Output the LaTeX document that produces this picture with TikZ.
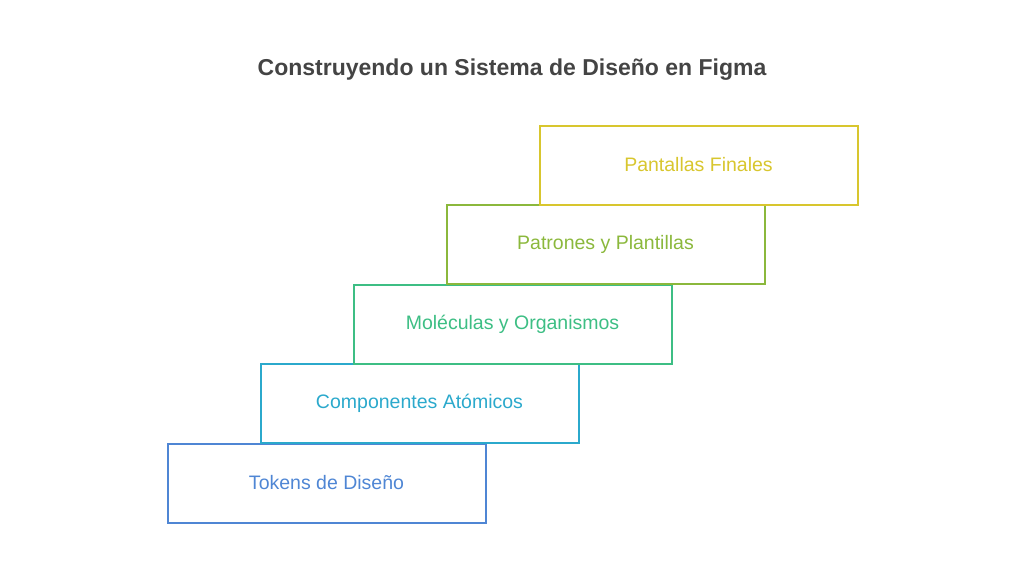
\documentclass[tikz,border=0pt]{standalone}
\usepackage{fontspec}
\setmainfont{Liberation Sans}
\usetikzlibrary{positioning}
\definecolor{cTokens}{HTML}{4F86D4}
\definecolor{cAtom}{HTML}{2BA9CC}
\definecolor{cMol}{HTML}{3DBE84}
\definecolor{cPat}{HTML}{8BB83C}
\definecolor{cPant}{HTML}{D8C62E}
\definecolor{cTitle}{HTML}{444444}
\begin{document}
\begin{tikzpicture}[x=1pt,y=-1pt,node distance=79.5pt and 93pt,on grid,
  step/.style={draw=#1,text=#1,line width=2pt,minimum width=318pt,
    minimum height=79pt,font=\fontsize{19.5}{23}\selectfont}]
    \useasboundingbox (0,0) rectangle (1024,576);
    \node[font=\fontsize{23}{27}\selectfont\bfseries,text=cTitle] (title) at (512,70) {Construyendo un Sistema de Diseño en Figma};
    \node[step=cTokens] (s_0) at (326.5,483) {Tokens de Diseño};
    \node[step=cAtom] (s_1) [above right=of s_0] {Componentes Atómicos};
    \node[step=cMol] (s_2) [above right=of s_1] {Moléculas y Organismos};
    \node[step=cPat] (s_3) [above right=of s_2] {Patrones y Plantillas};
    \node[step=cPant] (s_4) [above right=of s_3] {Pantallas Finales};
  \end{tikzpicture}
\end{document}
